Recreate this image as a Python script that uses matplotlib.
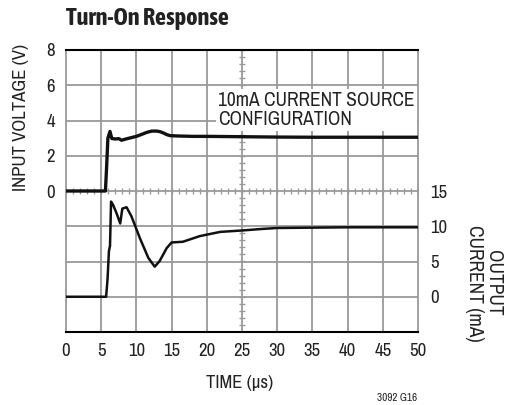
import numpy as np
import matplotlib
matplotlib.use("Agg")
import matplotlib.pyplot as plt
from matplotlib import font_manager as fm

# pick a narrow face if one is installed (reference uses a condensed sans);
# the title needs a bold weight, which not every narrow family ships
fonts = fm.fontManager.ttflist
narrow = sorted({f.name for f in fonts if 'Narrow' in f.name or 'Condensed' in f.name})
bold_narrow = [n for n in narrow
               if any(f.name == n and str(f.weight) in ('bold', '700') for f in fonts)]
if narrow:
    body_fam = [narrow[0], 'DejaVu Sans']
    title_fam = [bold_narrow[0] if bold_narrow else narrow[0], 'DejaVu Sans']
    k = 1.0
else:
    body_fam = ['Liberation Sans', 'DejaVu Sans']
    title_fam = body_fam
    k = 0.88
plt.rcParams['font.family'] = body_fam

# input voltage trace (V) vs time (us)
t_v = [0, 5.6, 5.75, 5.95, 6.25, 6.5, 7.0, 7.5, 7.9, 8.5, 9.2, 10.0, 10.8,
       11.5, 12.2, 12.9, 13.4, 13.8, 14.3, 14.8, 16, 18, 20, 25, 30, 35, 40, 45, 50]
v_in = [0, 0, 1.2, 3.0, 3.38, 2.98, 2.95, 2.97, 2.88, 2.95, 3.02, 3.1, 3.22,
        3.33, 3.4, 3.4, 3.36, 3.3, 3.2, 3.14, 3.12, 3.1, 3.1, 3.08, 3.06, 3.05, 3.05, 3.05, 3.05]

# output current trace (mA) vs time (us)
t_i = [0, 5.7, 5.9, 6.1, 6.25, 6.4, 6.7, 7.2, 7.7, 8.0, 8.6, 9.3, 10.5, 11.7,
       12.6, 13.3, 14.3, 15.0, 16.6, 19.0, 21.9, 25.0, 27.6, 29.9, 34.6, 40, 50]
i_out = [0, 0, 2.5, 6.5, 7.2, 13.5, 13.0, 11.8, 10.4, 12.5, 12.7, 11.4, 8.3, 5.5,
         4.27, 5.06, 6.9, 7.7, 7.8, 8.6, 9.2, 9.4, 9.6, 9.75, 9.8, 9.85, 9.85]

x_ticks = np.arange(0, 51, 5)
v_ticks = [0, 2, 4, 6, 8]
i_ticks = [0, 5, 10, 15]

grid_c = '#9a9a9a'
txt_c = '#222222'

fig = plt.figure(figsize=(5.1, 4.05), dpi=100)
ax = fig.add_axes([66 / 510, 73 / 405, 352 / 510, 282 / 405])
ax.set_xlim(0, 50)
ax.set_ylim(-8, 8)

# scope grid
for x in x_ticks[1:-1]:
    ax.axvline(x, color=grid_c, lw=1.3, zorder=1)
for y in np.arange(-6, 8, 2):
    ax.axhline(y, color=grid_c, lw=1.3, zorder=1)
# center graticule minor ticks
mx = np.arange(0, 50.01, 1)
ax.plot(mx, np.zeros_like(mx), ls='none', marker='|', ms=5, mew=1, color=grid_c, zorder=1)
my = np.arange(-8, 8.01, 0.4)
ax.plot(np.full_like(my, 25), my, ls='none', marker='_', ms=5, mew=1, color=grid_c, zorder=1)

ax.plot(t_v, v_in, color='#111111', lw=2.4, zorder=3, solid_joinstyle='round')

ax.set_xticks(x_ticks)
ax.set_yticks(v_ticks)
ax.tick_params(length=0, labelsize=13.5 * k, colors=txt_c, pad=8)
for s in ['top', 'bottom']:
    ax.spines[s].set_color('black')
    ax.spines[s].set_linewidth(1.5)
for s in ['left', 'right']:
    ax.spines[s].set_color(grid_c)
    ax.spines[s].set_linewidth(1.3)

ax2 = ax.twinx()
ax2.set_ylim(-5, 35)
ax2.plot(t_i, i_out, color='#111111', lw=1.8, zorder=3, solid_joinstyle='round')
ax2.set_yticks(i_ticks)
ax2.tick_params(length=0, labelsize=13.5 * k, colors=txt_c, pad=9)
for s in ax2.spines.values():
    s.set_visible(False)

ax.text(21.6, 4.6, '10mA CURRENT SOURCE\nCONFIGURATION', fontsize=14 * k, color=txt_c,
        ha='left', va='center', linespacing=0.95, zorder=4,
        bbox=dict(facecolor='white', edgecolor='none', pad=1.5))

fig.text(66 / 510, 1 - 19 / 405, 'Turn-On Response', fontsize=17.5 * k, fontweight='bold',
         family=title_fam, color=txt_c, ha='left', va='center')
fig.text(21 / 510, 1 - 117 / 405, 'INPUT VOLTAGE (V)', rotation=90, fontsize=13.5 * k,
         color=txt_c, ha='center', va='center')
fig.text(484 / 510, 1 - 283 / 405, 'OUTPUT\nCURRENT (mA)', rotation=-90, fontsize=14 * k,
         color=txt_c, ha='center', va='center', multialignment='center', linespacing=1.0)
fig.text(240 / 510, 1 - 383 / 405, 'TIME (µs)', fontsize=13.5 * k, color=txt_c,
         ha='center', va='center')
fig.text(397 / 510, 1 - 398 / 405, '3092 G16', fontsize=8 * k, color=txt_c,
         ha='center', va='center')

fig.savefig('out.png', dpi=100)
